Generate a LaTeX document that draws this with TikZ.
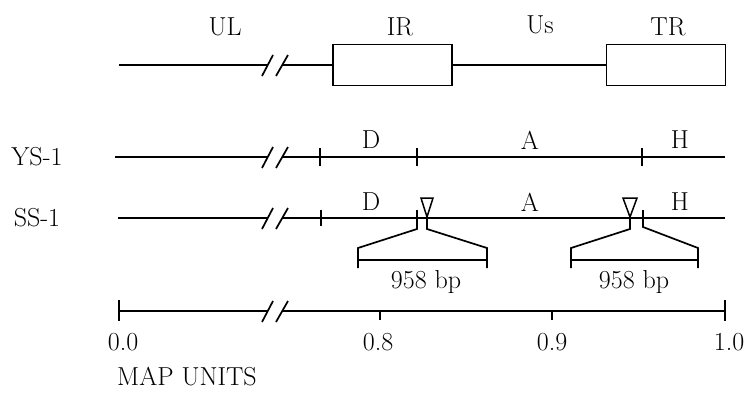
\documentclass[tikz,border=0pt]{standalone}
\usetikzlibrary{calc}

\begin{document}
\begin{tikzpicture}[x=1pt,y=-1pt,line width=1.7pt,
every node/.style={font=\fontsize{26}{30}\selectfont,inner sep=0pt},
segbox/.style={draw,minimum width=119pt,minimum height=41pt},
tri/.style={line width=1.5pt,line join=miter},
%scale=0.5, transform shape
]
\useasboundingbox (0,0) rectangle (747,392);

% top row
\node (nUL) at (225,27) {UL};
\node (nIRl) at (400,27) {IR};
\node (nUs) at (540,25) {Us};
\node (nTRl) at (668,27) {TR};
\node [segbox] (nIR) at (392.5,65) {};
\node [segbox] (nTR) at (666,65) {};
\coordinate (tA) at (119,65);
\coordinate (tB) at (268,65);
\coordinate (tC) at (282,65);
\draw (tA) -- (tB);
\draw (tC) -- (nIR.west);
\draw (nIR.east) -- (nTR.west);

% YS-1
\node (nYS) at (37,157) {YS-1};
\coordinate (yA) at (115,157);
\coordinate (yB) at (268,157);
\coordinate (yC) at (282,157);
\coordinate (yD) at (725,157);
\draw (yA) -- (yB);
\draw (yC) -- (yD);
\foreach \x in {320,417,642}
   \draw (\x,148) -- (\x,166);
\node (nD1) at (371,140) {D};
\node (nA1) at (530,140) {A};
\node (nH1) at (680,140) {H};

% SS-1
\node (nSS) at (37,218) {SS-1};
\coordinate (sA) at (118,218);
\coordinate (sB) at (268,218);
\coordinate (sC) at (282,218);
\coordinate (sD) at (725,218);
\draw (sA) -- (sB);
\draw (sC) -- (sD);
\draw (321,210) -- (321,226);
\node (nD2) at (371,202) {D};
\node (nA2) at (530,202) {A};
\node (nH2) at (680,202) {H};

% insertions
\coordinate (iA) at (427,217);
\coordinate (iB) at (630,217);
\draw [tri] (iA) -- ++(-6,-19) -- ++(12,0) -- cycle;
\draw [tri] (iB) -- ++(-7,-19) -- ++(14,0) -- cycle;
\coordinate (bA1) at (358,260);
\coordinate (bA2) at (487,260);
\coordinate (bB1) at (571,260);
\coordinate (bB2) at (698,260);
\draw (417,210) -- (417,229) -- ($(bA1)+(0,-12)$) -- ++(0,20);
\draw (iA) -- ++(0,12) -- ($(bA2)+(0,-12)$) -- ++(0,20);
\draw (bA1) -- (bA2);
\draw (iB) -- ++(0,12) -- ($(bB1)+(0,-12)$) -- ++(0,20);
\draw (643,210) -- (643,227) -- ($(bB2)+(0,-12)$) -- ++(0,20);
\draw (bB1) -- (bB2);
\node (nbpA) at (426,282) {958 bp};
\node (nbpB) at (634,282) {958 bp};

% scale
\coordinate (mA) at (119,311);
\coordinate (mB) at (268,311);
\coordinate (mC) at (282,311);
\coordinate (mD) at (725,311);
\draw (mA) -- (mB);
\draw (mC) -- (mD);
\draw (119,300) -- (119,321);
\draw (725,300) -- (725,321);
\draw (380,311) -- (380,320);
\draw (552,311) -- (552,320);
\node (n00) at (123,342) {0.0};
\node (n08) at (378,342) {0.8};
\node (n09) at (552,342) {0.9};
\node (n10) at (729,342) {1.0};
\node (nMU) at (187,377) {MAP UNITS};

% breaks
\foreach \y in {65,157,218,311}
{
   \draw (262,\y+11) -- (273,\y-10);
   \draw (276,\y+11) -- (288,\y-10);
}
\end{tikzpicture}
\end{document}
